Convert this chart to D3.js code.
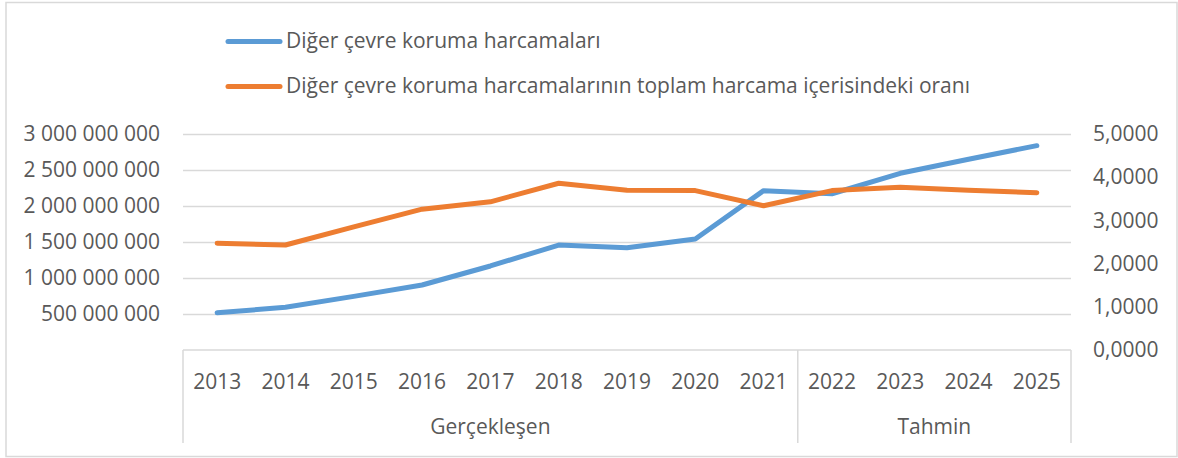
<!DOCTYPE html>
<html>
<head>
<meta charset="utf-8">
<script src="https://cdn.jsdelivr.net/npm/d3@7"></script>
<style>
  body { margin: 0; background: #fff; }
  svg text { font-family: "Open Sans", Lato, sans-serif; fill: #595959; }
</style>
</head>
<body>
<svg id="chart" width="1178" height="458"></svg>
<script>
(function() {
'use strict';

    // categories
    var years = ['2013', '2014', '2015', '2016', '2017', '2018', '2019', '2020', '2021', '2022', '2023', '2024', '2025'];
    var groups = [
        {name: 'Gerçekleşen', from: '2013', to: '2021'},
        {name: 'Tahmin', from: '2022', to: '2025'}
    ];

    // series
    var spending = [518e6, 593e6, 745e6, 903e6, 1167e6, 1458e6, 1421e6, 1542e6, 2213e6, 2170e6, 2454e6, 2649e6, 2838e6];
    var share = [2.47, 2.43, 2.85, 3.26, 3.43, 3.86, 3.70, 3.69, 3.34, 3.69, 3.77, 3.70, 3.64];

    var seriesNames = ['Diğer çevre koruma harcamaları', 'Diğer çevre koruma harcamalarının toplam harcama içerisindeki oranı'];
    var seriesColors = ['#5B9BD5', '#ED7D31'];

    // tick values
    var leftTicks = [500e6, 1000e6, 1500e6, 2000e6, 2500e6, 3000e6];
    var rightTicks = [0, 1, 2, 3, 4, 5];

    var locale = d3.formatLocale({decimal: ',', thousands: ' ', grouping: [3], currency: ['', '']});
    var fmtLeft = locale.format(','),
        fmtRight = locale.format('.4f');

    var fontSize = 21;
    var svg = d3.select('#chart');
    var plot = {left: 183, right: 1071, top: 134, bottom: 350};

    // outer chart border
    svg.append('rect')
        .attr('x', 6).attr('y', 2.5)
        .attr('width', 1171).attr('height', 454)
        .attr('fill', 'none')
        .attr('stroke', '#D9D9D9')
        .attr('stroke-width', 1.5);

    var x = d3.scaleBand().domain(years).range([plot.left, plot.right]).padding(0),
        yL = d3.scaleLinear().domain([0, 3e9]).range([plot.bottom, plot.top]),
        yR = d3.scaleLinear().domain([0, 5]).range([plot.bottom, plot.top]);
    var cx = function(d) { return x(d) + x.bandwidth() / 2; };

    // gridlines
    svg.append('g')
        .attr('class', 'grid')
        .attr('transform', 'translate(' + plot.left + ',0)')
        .call(d3.axisLeft(yL).tickValues(leftTicks).tickSize(-(plot.right - plot.left)).tickFormat(''))
        .call(function(g) { g.select('.domain').remove(); })
        .selectAll('line')
        .attr('stroke', '#D9D9D9')
        .attr('stroke-width', 1.5);

    // left axis labels
    svg.append('g')
        .attr('transform', 'translate(160,0)')
        .call(d3.axisLeft(yL).tickValues(leftTicks).tickSize(0).tickPadding(0).tickFormat(fmtLeft))
        .call(function(g) {
            g.select('.domain').remove();
            g.selectAll('text').attr('font-size', fontSize).attr('font-family', null);
        });

    // right axis labels
    svg.append('g')
        .attr('transform', 'translate(1093,0)')
        .call(d3.axisRight(yR).tickValues(rightTicks).tickSize(0).tickPadding(0).tickFormat(fmtRight))
        .call(function(g) {
            g.select('.domain').remove();
            g.selectAll('text').attr('font-size', fontSize).attr('font-family', null);
        });

    // category axis (multi-level)
    var catAxis = svg.append('g').attr('class', 'cat-axis');
    catAxis.append('line')
        .attr('x1', plot.left).attr('x2', plot.right)
        .attr('y1', plot.bottom).attr('y2', plot.bottom)
        .attr('stroke', '#D9D9D9').attr('stroke-width', 1.5);

    var dividers = [plot.left].concat(groups.map(function(g) { return x(g.to) + x.bandwidth(); }));
    catAxis.selectAll('line.div').data(dividers).enter().append('line')
        .attr('class', 'div')
        .attr('x1', function(d) { return d; }).attr('x2', function(d) { return d; })
        .attr('y1', plot.bottom).attr('y2', 443)
        .attr('stroke', '#D9D9D9').attr('stroke-width', 1.5);

    catAxis.selectAll('text.year').data(years).enter().append('text')
        .attr('class', 'year')
        .attr('x', cx)
        .attr('y', 389)
        .attr('text-anchor', 'middle')
        .attr('font-size', fontSize)
        .text(function(d) { return d; });

    catAxis.selectAll('text.grp').data(groups).enter().append('text')
        .attr('class', 'grp')
        .attr('x', function(d) { return (x(d.from) + x(d.to) + x.bandwidth()) / 2; })
        .attr('y', 434)
        .attr('text-anchor', 'middle')
        .attr('font-size', fontSize)
        .text(function(d) { return d.name; });

    // lines
    var lineL = d3.line().x(function(d, i) { return cx(years[i]); }).y(function(d) { return yL(d); }),
        lineR = d3.line().x(function(d, i) { return cx(years[i]); }).y(function(d) { return yR(d); });

    svg.append('path')
        .datum(spending)
        .attr('d', lineL)
        .attr('fill', 'none')
        .attr('stroke', seriesColors[0])
        .attr('stroke-width', 5)
        .attr('stroke-linejoin', 'round')
        .attr('stroke-linecap', 'round');

    svg.append('path')
        .datum(share)
        .attr('d', lineR)
        .attr('fill', 'none')
        .attr('stroke', seriesColors[1])
        .attr('stroke-width', 5)
        .attr('stroke-linejoin', 'round')
        .attr('stroke-linecap', 'round');

    // legend
    var legend = svg.append('g').attr('class', 'legend');
    var items = legend.selectAll('g').data(seriesNames).enter().append('g')
        .attr('transform', function(d, i) { return 'translate(0,' + (41.5 + i * 45) + ')'; });
    items.append('line')
        .attr('x1', 228).attr('x2', 280)
        .attr('stroke', function(d, i) { return seriesColors[i]; })
        .attr('stroke-width', 5)
        .attr('stroke-linecap', 'round');
    items.append('text')
        .attr('x', 286).attr('y', 6.5)
        .attr('font-size', fontSize)
        .text(function(d) { return d; });

})();
</script>
</body>
</html>
